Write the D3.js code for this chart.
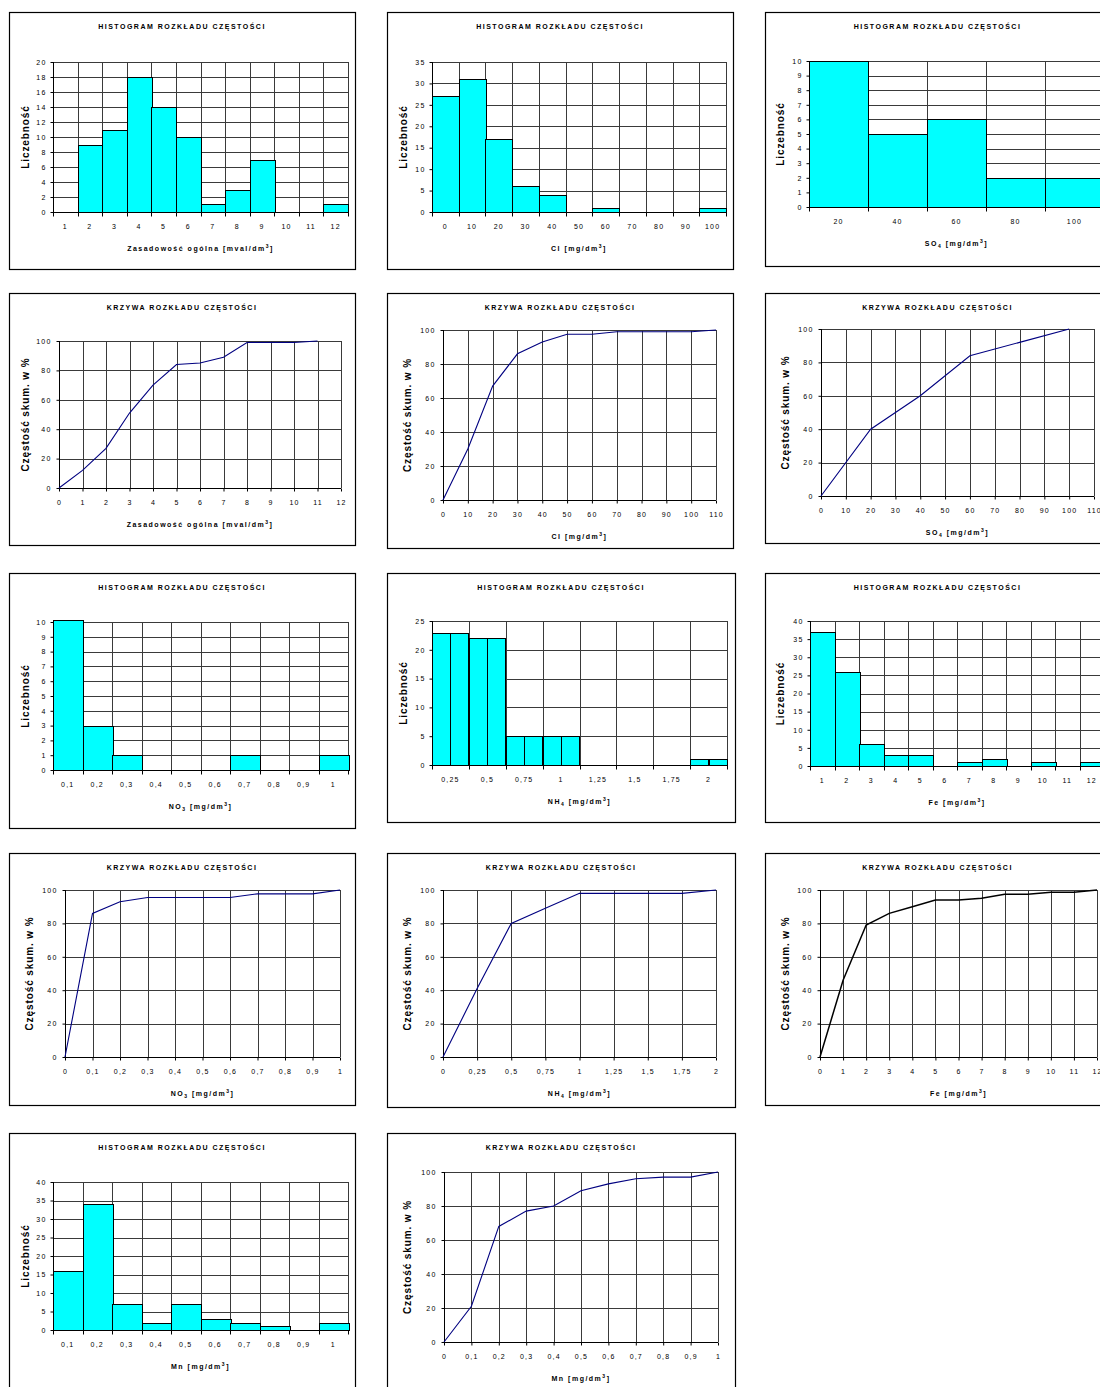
<!DOCTYPE html>
<html>
<head>
<meta charset="utf-8">
<script src="https://cdn.jsdelivr.net/npm/d3@7"></script>
<style>
  body { margin: 0; background: #fff; }
  svg { display: block; font-family: "Liberation Sans", Arial, sans-serif; }
</style>
</head>
<body>
<svg id="chart" width="1100" height="1387"></svg>
<script>
// ---- data ----
const zasCats = ["1","2","3","4","5","6","7","8","9","10","11","12"];
const zasCounts = [0, 9, 11, 18, 14, 10, 1, 3, 7, 0, 0, 1];
const clCats = ["0","10","20","30","40","50","60","70","80","90","100"];
const clCounts = [27, 31, 17, 6, 4, 0, 1, 0, 0, 0, 1];
const so4Cats = ["20","40","60","80","100"];
const so4Counts = [10, 5, 6, 2, 2];
const no3Cats = ["0,1","0,2","0,3","0,4","0,5","0,6","0,7","0,8","0,9","1"];
const no3Counts = [37, 3, 1, 0, 0, 0, 1, 0, 0, 1];
const nh4Cats = ["0,25","0,5","0,75","1","1,25","1,5","1,75","2"];
const nh4Counts = [23, 23, 22, 22, 5, 5, 5, 5, 0, 0, 0, 0, 0, 0, 1, 1]; // two bins per label
const feCats = ["1","2","3","4","5","6","7","8","9","10","11","12"];
const feCounts = [37, 26, 6, 3, 3, 0, 1, 2, 0, 1, 0, 1];
const mnCats = ["0,1","0,2","0,3","0,4","0,5","0,6","0,7","0,8","0,9","1"];
const mnCounts = [16, 34, 7, 2, 7, 3, 2, 1, 0, 2];

const zasCumX = [0, 1, 2, 3, 4, 5, 6, 7, 8, 9, 10, 11];
const zasCumY = [0, 12, 27, 51, 70, 84, 85, 89, 99, 99, 99, 100];
const clCumX = [0, 10, 20, 30, 40, 50, 60, 70, 80, 90, 100, 110];
const clCumY = [0, 30, 67, 86, 93, 97.5, 97.5, 99, 99, 99, 99, 100];
const so4CumX = [0, 20, 40, 60, 80, 100];
const so4CumY = [0, 40, 60, 84, 92, 100];
const no3CumX = [0, 0.1, 0.2, 0.3, 0.4, 0.5, 0.6, 0.7, 0.8, 0.9, 1];
const no3CumY = [0, 86, 93, 95.5, 95.5, 95.5, 95.5, 97.7, 97.7, 97.7, 100];
const nh4CumX = [0, 0.25, 0.5, 0.75, 1, 1.25, 1.5, 1.75, 2];
const nh4CumY = [0, 41, 80, 89, 98, 98, 98, 98, 100];
const feCumX = [0, 1, 2, 3, 4, 5, 6, 7, 8, 9, 10, 11, 12];
const feCumY = [0, 46, 79, 86, 90, 94, 94, 95, 97.5, 97.5, 98.7, 98.7, 100];
const mnCumX = [0, 0.1, 0.2, 0.3, 0.4, 0.5, 0.6, 0.7, 0.8, 0.9, 1];
const mnCumY = [0, 21, 68, 77, 80, 89, 93, 96, 97, 97, 100];

const histTitle = "HISTOGRAM ROZKŁADU CZĘSTOŚCI";
const curveTitle = "KRZYWA ROZKŁADU CZĘSTOŚCI";
const histYLabel = "Liczebność";
const curveYLabel = "Częstość skum. w %";

// axis titles as segments (sub / sup)
const mgdm = [{t: " [mg/dm"}, {t: "3", sup: true}, {t: "]"}];
const zasTitle = [{t: "Zasadowość ogólna [mval/dm"}, {t: "3", sup: true}, {t: "]"}];
const clTitle = [{t: "Cl"}].concat(mgdm);
const so4Title = [{t: "SO"}, {t: "4", sub: true}].concat(mgdm);
const no3Title = [{t: "NO"}, {t: "3", sub: true}].concat(mgdm);
const nh4Title = [{t: "NH"}, {t: "4", sub: true}].concat(mgdm);
const feTitle = [{t: "Fe"}].concat(mgdm);
const mnTitle = [{t: "Mn"}].concat(mgdm);

const svg = d3.select("#chart");
const fmt = d3.formatLocale({decimal: ",", thousands: " ", grouping: [3], currency: ["", ""]}).format("~g");
const gridCol = "#3a3a3a";
const crisp = v => Math.round(v) + 0.5;

function frame(g, p, title, yLabel, xTitle) {
  g.append("rect")
    .attr("x", p.box[0] + 0.5).attr("y", p.box[1] + 0.5)
    .attr("width", p.box[2]).attr("height", p.box[3])
    .attr("fill", "#fff").attr("stroke", "#000").attr("stroke-width", 1.2);

  g.append("text")
    .attr("x", p.box[0] + p.box[2] / 2).attr("y", p.box[1] + 17)
    .attr("text-anchor", "middle")
    .attr("font-size", 7).attr("font-weight", "bold").attr("letter-spacing", 1.5)
    .text(title);

  const my = (p.t + p.b) / 2;
  g.append("text")
    .attr("transform", `translate(${p.ylx},${my}) rotate(-90)`)
    .attr("text-anchor", "middle").attr("dy", "0.35em")
    .attr("font-size", 10).attr("font-weight", "bold").attr("letter-spacing", 0.9)
    .text(yLabel);

  const xt = g.append("text")
    .attr("x", (p.l + p.r) / 2).attr("y", p.b + 38.5)
    .attr("text-anchor", "middle")
    .attr("font-size", 7).attr("font-weight", "bold").attr("letter-spacing", 1.5);
  let shift = 0;
  xTitle.forEach(s => {
    const dy = s.sup ? -3 : s.sub ? 2 : 0;
    xt.append("tspan")
      .attr("dy", dy - shift)
      .attr("font-size", (s.sup || s.sub) ? 5 : 7)
      .text(s.t);
    shift = dy;
  });
}

function styleAxis(a) {
  a.attr("font-size", 7).attr("font-family", null);
  a.selectAll(".domain").remove();
  a.selectAll("text").attr("fill", "#000").attr("letter-spacing", 1.2);
  a.selectAll("line").attr("stroke", "#000");
}

function histogram(p) {
  const g = svg.append("g");
  frame(g, p, histTitle, histYLabel, p.xTitle);

  const x = d3.scaleBand().domain(p.cats).range([p.l, p.r]);
  const y = d3.scaleLinear().domain([0, p.yMax]).range([p.b, p.t]).clamp(true);
  const yTicks = d3.range(0, p.yMax + p.yStep / 2, p.yStep);
  const edges = p.cats.map(c => x(c)).concat([p.r]);

  g.append("g").selectAll("line").data(yTicks).join("line")
    .attr("x1", p.l).attr("x2", p.r)
    .attr("y1", d => crisp(y(d))).attr("y2", d => crisp(y(d)))
    .attr("stroke", gridCol);
  g.append("g").selectAll("line").data(edges).join("line")
    .attr("x1", d => crisp(d)).attr("x2", d => crisp(d))
    .attr("y1", p.t).attr("y2", p.b)
    .attr("stroke", gridCol);

  const per = p.counts.length / p.cats.length;
  const sub = d3.scaleBand().domain(d3.range(per)).range([0, x.bandwidth()]);
  g.append("g").selectAll("rect")
    .data(p.counts.map((v, i) => ({v, i})).filter(d => d.v > 0))
    .join("rect")
    .attr("x", d => crisp(x(p.cats[Math.floor(d.i / per)]) + sub(d.i % per)))
    .attr("width", Math.round(sub.bandwidth()))
    .attr("y", d => crisp(y(d.v)) - (d.v > p.yMax ? 2 : 0))
    .attr("height", d => crisp(y(0)) - crisp(y(d.v)) + (d.v > p.yMax ? 2 : 0))
    .attr("fill", "#00ffff").attr("stroke", "#000");

  // axis lines
  g.append("line").attr("x1", crisp(p.l)).attr("x2", crisp(p.l))
    .attr("y1", p.t).attr("y2", crisp(p.b)).attr("stroke", "#000");
  g.append("line").attr("x1", p.l).attr("x2", p.r)
    .attr("y1", crisp(p.b)).attr("y2", crisp(p.b)).attr("stroke", "#000");

  g.append("g").attr("transform", `translate(${crisp(p.l)},0)`)
    .call(d3.axisLeft(y).tickValues(yTicks).tickSize(3).tickPadding(4).tickFormat(d3.format("d")))
    .call(styleAxis);

  g.append("g").attr("transform", `translate(0,${crisp(p.b)})`)
    .call(d3.axisBottom(x).tickSize(0).tickPadding(12))
    .call(styleAxis);

  g.append("g").selectAll("line").data(edges).join("line")
    .attr("x1", d => crisp(d)).attr("x2", d => crisp(d))
    .attr("y1", crisp(p.b)).attr("y2", crisp(p.b) + 4)
    .attr("stroke", "#000");
}

function curve(p) {
  const g = svg.append("g");
  frame(g, p, curveTitle, curveYLabel, p.xTitle);

  const x = d3.scaleLinear().domain([0, p.xMax]).range([p.l, p.r]);
  const y = d3.scaleLinear().domain([0, 100]).range([p.b, p.t]);
  const n = Math.round(p.xMax / p.xStep);
  const xTicks = d3.range(n + 1).map(i => +(i * p.xStep).toFixed(3));
  const yTicks = [0, 20, 40, 60, 80, 100];

  g.append("g").selectAll("line").data(yTicks).join("line")
    .attr("x1", p.l).attr("x2", p.r)
    .attr("y1", d => crisp(y(d))).attr("y2", d => crisp(y(d)))
    .attr("stroke", gridCol);
  g.append("g").selectAll("line").data(xTicks).join("line")
    .attr("x1", d => crisp(x(d))).attr("x2", d => crisp(x(d)))
    .attr("y1", p.t).attr("y2", p.b)
    .attr("stroke", gridCol);

  g.append("line").attr("x1", crisp(p.l)).attr("x2", crisp(p.l))
    .attr("y1", p.t).attr("y2", crisp(p.b)).attr("stroke", "#000");
  g.append("line").attr("x1", p.l).attr("x2", p.r)
    .attr("y1", crisp(p.b)).attr("y2", crisp(p.b)).attr("stroke", "#000");

  g.append("g").attr("transform", `translate(${crisp(p.l)},0)`)
    .call(d3.axisLeft(y).tickValues(yTicks).tickSize(3).tickPadding(5).tickFormat(d3.format("d")))
    .call(styleAxis);
  g.append("g").attr("transform", `translate(0,${crisp(p.b)})`)
    .call(d3.axisBottom(x).tickValues(xTicks).tickSize(3).tickPadding(9).tickFormat(fmt))
    .call(styleAxis);

  const line = d3.line().x(d => x(d[0])).y(d => y(d[1]));
  g.append("path")
    .datum(p.xs.map((v, i) => [v, p.ys[i]]))
    .attr("d", line)
    .attr("fill", "none")
    .attr("stroke", p.color || "#000080")
    .attr("stroke-width", p.width || 1.1);
}

// ---- panels ----
histogram({box: [9, 12, 346, 257], l: 53, t: 62, r: 348, b: 212, ylx: 25,
  cats: zasCats, counts: zasCounts, yMax: 20, yStep: 2, xTitle: zasTitle});
histogram({box: [387, 12, 346, 257], l: 432, t: 62, r: 726, b: 212, ylx: 403,
  cats: clCats, counts: clCounts, yMax: 35, yStep: 5, xTitle: clTitle});
histogram({box: [765, 12, 345, 254], l: 809, t: 61, r: 1104, b: 207, ylx: 780,
  cats: so4Cats, counts: so4Counts, yMax: 10, yStep: 1, xTitle: so4Title});

curve({box: [9, 293, 346, 252], l: 59, t: 341, r: 341, b: 488, ylx: 25,
  xs: zasCumX, ys: zasCumY, xMax: 12, xStep: 1, xTitle: zasTitle});
curve({box: [387, 293, 346, 255], l: 443, t: 330, r: 716, b: 500, ylx: 407,
  xs: clCumX, ys: clCumY, xMax: 110, xStep: 10, xTitle: clTitle});
curve({box: [765, 293, 345, 250], l: 821, t: 329, r: 1094, b: 496, ylx: 785,
  xs: so4CumX, ys: so4CumY, xMax: 110, xStep: 10, xTitle: so4Title});

histogram({box: [9, 573, 346, 255], l: 53, t: 622, r: 348, b: 770, ylx: 25,
  cats: no3Cats, counts: no3Counts, yMax: 10, yStep: 1, xTitle: no3Title});
histogram({box: [387, 573, 348, 249], l: 432, t: 621, r: 727, b: 765, ylx: 403,
  cats: nh4Cats, counts: nh4Counts, yMax: 25, yStep: 5, xTitle: nh4Title});
histogram({box: [765, 573, 345, 249], l: 810, t: 621, r: 1104, b: 766, ylx: 780,
  cats: feCats, counts: feCounts, yMax: 40, yStep: 5, xTitle: feTitle});

curve({box: [9, 853, 346, 252], l: 65, t: 890, r: 340, b: 1057, ylx: 29,
  xs: no3CumX, ys: no3CumY, xMax: 1, xStep: 0.1, xTitle: no3Title});
curve({box: [387, 853, 348, 254], l: 443, t: 890, r: 716, b: 1057, ylx: 407,
  xs: nh4CumX, ys: nh4CumY, xMax: 2, xStep: 0.25, xTitle: nh4Title});
curve({box: [765, 853, 345, 252], l: 820, t: 890, r: 1097, b: 1057, ylx: 785,
  xs: feCumX, ys: feCumY, xMax: 12, xStep: 1, xTitle: feTitle, color: "#000", width: 1.5});

histogram({box: [9, 1133, 346, 262], l: 53, t: 1182, r: 348, b: 1330, ylx: 25,
  cats: mnCats, counts: mnCounts, yMax: 40, yStep: 5, xTitle: mnTitle});
curve({box: [387, 1133, 348, 262], l: 444, t: 1172, r: 718, b: 1342, ylx: 407,
  xs: mnCumX, ys: mnCumY, xMax: 1, xStep: 0.1, xTitle: mnTitle});
</script>
</body>
</html>
